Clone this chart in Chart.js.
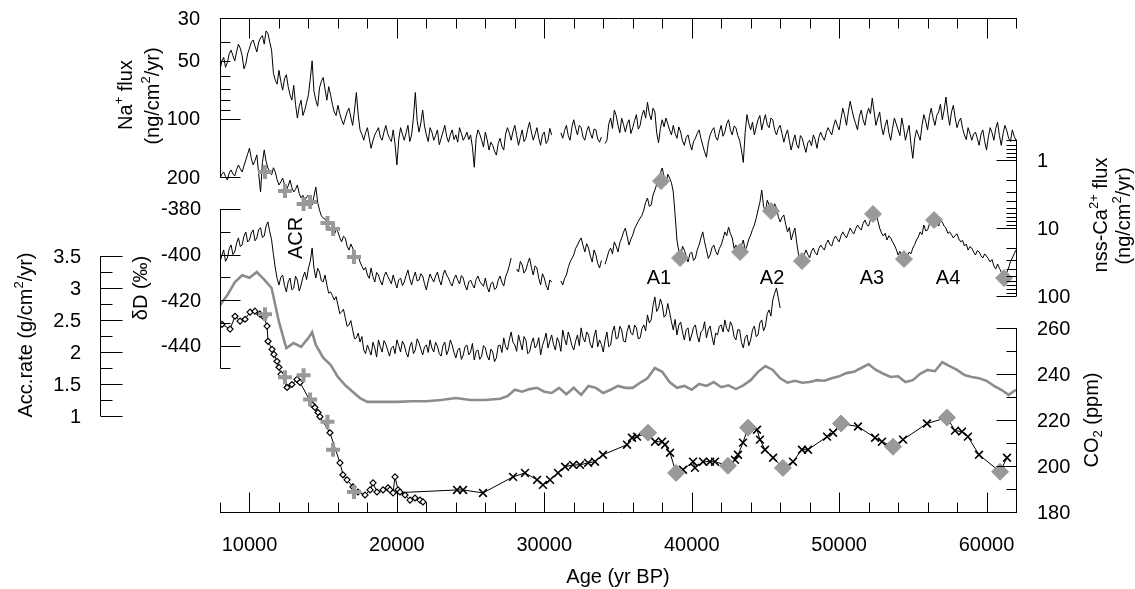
<!DOCTYPE html>
<html lang="en">
<head>
<meta charset="UTF-8">
<title>Ice core records, 8-62 kyr BP</title>
<script src="https://cdn.jsdelivr.net/npm/chart.js"></script>
<style>
  html, body { margin: 0; padding: 0; background: #fff; }
  #wrap { width: 1135px; height: 589px; }
</style>
</head>
<body>
<div id="wrap"><canvas id="coreChart" width="1135" height="589"></canvas></div>
<script>
// high resolution records: one value every 125 yr starting at 8000 yr BP
const fineStart = 8000;
const fineStep = 125;

// Na+ flux (ng/cm2/yr), rows of 2000 yr
const naFlux = [
  56, 50, 48, 54, 51, 46, 44, 47, 50, 45, 41, 43, 47, 55, 52, 46,
  43, 40, 39, 42, 45, 40, 38, 37, 41, 35, 36, 40, 44, 58, 63, 66,
  56, 64, 71, 62, 59, 68, 75, 80, 67, 84, 99, 86, 80, 96, 90, 82,
  75, 62, 50, 72, 80, 86, 69, 64, 61, 70, 80, 68, 75, 84, 92, 96,
  85, 94, 101, 107, 99, 92, 88, 98, 108, 90, 73, 95, 114, 120, 129, 118,
  111, 126, 142, 130, 121, 116, 111, 124, 129, 117, 108, 119, 126, 131, 114, 135,
  173, 128, 111, 120, 129, 118, 108, 131, 121, 98, 73, 102, 117, 105, 90, 109,
  121, 131, 111, 117, 129, 122, 114, 136, 126, 117, 108, 123, 132, 121, 114, 128,
  121, 132, 111, 119, 129, 124, 117, 128, 121, 140, 178, 126, 114, 120, 129, 140,
  117, 128, 145, 132, 137, 147, 154, 134, 126, 139, 145, 120, 111, 118, 129, 116,
  108, 122, 137, 125, 114, 131, 126, 113, 104, 117, 129, 120, 111, 126, 137, 121,
  117, 134, 129, 112, 121, null, null, null, null, 118, 126, 115, 108, 122, 129, 110,
  101, 112, 121, 108, 111, 124, 129, 116, 109, 119, 126, 113, 114, 127, 132, 124,
  null, 134, 129, 106, 99, 112, 90, 96, 108, 118, 99, 107, 117, 106, 101, 119,
  111, 102, 95, 113, 108, 96, 90, 99, 82, 94, 101, 88, 92, 118, 133, 112,
  101, 110, 99, 106, 114, 121, 108, 119, 126, 110, 117, 130, 137, 125, 121, 134,
  145, 131, 126, 119, 114, 126, 137, 148, 158, 133, 121, 115, 111, 124, 129, 117,
  108, 123, 117, 106, 101, 114, 121, 109, 111, 122, 129, 145, 168, 118, 95, 106,
  114, 104, 121, 110, 101, 96, 114, 103, 95, 107, 111, 99, 101, 114, 121, 112,
  108, 119, 132, 121, 114, 130, 145, 131, 121, 136, 142, 122, 126, 138, 149, 133,
  129, 138, 121, 128, 142, 125, 117, 124, 129, 118, 111, 116, 121, 109, 101, 108,
  114, 100, 88, 96, 108, 92, 81, 90, 99, 106, 114, 97, 90, 101, 108, 95,
  88, 94, 78, 92, 108, 99, 92, 110, 121, 108, 101, 118, 129, 112, 99, 106,
  114, 122, 99, 111, 129, 117, 108, 136, 160, 127, 114, 121, 129, 108, 95, 103,
  114, 97, 88, 99, 108, 96, 92, 84, 101, 90, 77, 94, 108, 92, 85, 99,
  111, 103, 99, 112, 121, 128, 111, 119, 129, 120, 117, 126, 137, 120, 114, 131,
  145, 124, 111, 118, 129, 112, 104, 122, 137, 119, 108, 115, 126, 131, 114, 123,
  129
];

// nss-Ca2+ flux (ng/cm2/yr)
const caFlux = [
  1.84, 1.62, 1.50, 1.75, 1.97, 1.55, 1.40, 1.60, 1.72, 1.38, 1.18, 1.35, 1.50, 1.22, 1.00, 0.82,
  0.67, 0.95, 1.18, 1.02, 0.84, 1.60, 2.95, 1.10, 0.71, 1.05, 1.31, 1.48, 1.66, 1.30, 1.50, 1.95,
  2.33, 2.10, 1.84, 2.30, 2.76, 2.40, 1.97, 2.55, 2.95, 2.70, 2.33, 3.10, 3.62, 3.30, 3.88, 3.50,
  3.27, 4.10, 4.59, 3.40, 2.49, 4.20, 5.44, 6.60, 7.13, 7.40, 8.16, 9.50, 10.0, 11.8, 12.7, 10.6,
  11.4, 13.8, 16.0, 13.2, 14.0, 18.5, 21.1, 17.2, 19.7, 24.0, 27.6, 25.0, 31.6, 36.5, 41.5, 38.0,
  49.1, 55.0, 38.7, 52.0, 62.3, 45.0, 49.1, 60.0, 68.9, 52.0, 44.4, 51.0, 58.2, 66.0, 49.1, 62.0,
  76.2, 58.0, 54.4, 70.0, 62.3, 50.0, 41.5, 56.0, 68.9, 53.0, 44.4, 60.0, 58.2, 47.0, 50.8, 66.0,
  81.6, 60.0, 47.5, 55.0, 62.3, 51.0, 44.4, 58.0, 68.9, 50.0, 41.5, 49.0, 54.4, 64.0, 71.3, 56.0,
  49.1, 58.0, 66.6, 50.0, 54.4, 70.0, 81.6, 62.0, 58.2, 68.0, 76.2, 57.0, 50.8, 61.0, 66.6, 72.0,
  54.4, 74.0, 87.3, 66.0, 62.3, 80.0, 76.2, 58.0, 50.8, 63.0, 71.3, 52.0, 44.4, 36.0, 27.6, null,
  null, 40.0, 44.4, 31.0, 35.0, 46.0, 41.5, 33.0, 27.6, 38.0, 49.1, 36.0, 38.7, 55.0, 68.9, 47.0,
  54.4, 70.0, 81.6, 58.0, 62.3, null, null, null, null, 60.0, 68.9, 55.0, 49.1, 38.0, 31.6, 28.0,
  24.9, 20.0, 17.8, 15.5, 14.0, 18.0, 22.5, 17.0, 19.7, 26.0, 31.6, 21.0, 24.9, 33.0, 38.7, 30.0,
  null, 34.0, 27.6, 22.0, 19.7, 24.0, 16.0, 18.5, 22.5, 16.5, 14.0, 11.5, 10.0, 13.5, 17.8, 14.5,
  12.7, 10.2, 9.03, 8.0, 7.13, 6.5, 5.44, 4.2, 3.62, 4.8, 4.59, 3.3, 2.76, 2.3, 1.97, 1.55,
  1.31, 1.75, 2.33, 1.62, 1.84, 2.15, 2.95, 6.5, 15.0, 22.0, 27.6, 18.5, 21.1, 26.0, 31.6, 24.0,
  22.5, 30.0, 27.6, 21.0, 17.8, 14.0, 11.4, 16.0, 21.1, 28.0, 24.9, 19.5, 17.8, 22.0, 24.9, 20.0,
  17.8, 14.5, 11.4, 13.0, 9.7, 12.0, 14.0, 20.0, 17.8, 24.0, 22.5, 18.0, 15.0, 21.0, 18.4, 14.5,
  12.7, 10.5, 9.03, 7.2, 5.44, 4.2, 2.76, 4.8, 5.81, 3.9, 4.59, 5.4, 6.44, 4.4, 5.08, 6.8,
  8.16, 7.0, 6.44, 8.8, 11.4, 9.8, 15.0, 12.0, 10.0, 16.5, 24.9, 28.0, 31.6, 25.0, 21.1, 24.5,
  27.6, 22.0, 19.7, 23.0, 24.9, 20.0, 17.8, 19.5, 21.1, 17.0, 15.0, 17.5, 18.4, 14.8, 13.1, 14.6,
  16.0, 13.0, 11.4, 12.8, 14.0, 11.8, 10.0, 11.2, 12.2, 10.2, 9.03, 10.0, 10.7, 8.6, 7.63, 8.9,
  9.36, 7.6, 6.22, 7.2, 5.44, 7.8, 10.0, 11.8, 13.1, 12.0, 15.0, 13.0, 14.0, 16.0, 17.8, 20.5,
  24.9, 22.0, 27.6, 25.0, 31.6, 26.0, 22.5, 24.0, 19.7, 17.5, 15.0, 13.5, 11.4, 12.5, 9.03, 11.0,
  10.7, 8.8, 7.63, 9.0, 7.13, 8.2, 9.36, 7.9, 8.16, 9.4, 10.0, 12.0, 11.4, 12.6, 14.0, 12.8,
  12.2, 14.5, 16.0, 15.2, 18.4, 17.2, 21.1, 18.8, 19.7, 22.5, 24.9, 21.5, 22.5, 25.5, 27.6, 24.0,
  25.8, 28.5, 31.6, 29.0, 36.2, 40.0, 33.8, 39.0, 44.4, 48.0, 50.8, 45.0, 38.7, 31.0, 27.6, 24.0,
  21.1
];

// deltaD (permil), 8000 - 46000 yr BP
const deltaD = [
  -403.3, -400.5, -398, -403.0, -401.5, -397.5, -395.8, -400.0, -398.9, -395.0, -392.7, -396.5, -395.8, -392.0, -390.1, -394.5,
  -393.6, -390.5, -389.2, -394.0, -392.7, -389.0, -388.3, -392.5, -391.9, -387.5, -385.7, -390.0, -393.6, -400.0, -405.9, -410.5,
  -413.4, -410.0, -409, -413.5, -416.4, -412.0, -410.3, -415.5, -414.7, -409.5, -411.2, -416.0, -413.4, -410.0, -407.7, -411.0,
  -405.9, -403.0, -397.1, -406.0, -410.3, -406.0, -407.7, -411.5, -412, -409.0, -413.4, -417.0, -416.4, -418.0, -420, -418.5,
  -422.1, -426.0, -425.2, -424.0, -427.8, -431.5, -430.9, -429.0, -433.1, -437.0, -436.6, -434.5, -438.4, -436.0, -441.9, -443.5,
  -439.7, -442.0, -444.1, -438.5, -441, -445.0, -437.5, -440.5, -442.8, -437.8, -439.3, -442.0, -444.6, -441.0, -440.2, -443.5,
  -437.5, -440.0, -442.8, -438.0, -439.7, -443.0, -445, -440.5, -438.4, -443.5, -441.9, -437.0, -438.8, -441.5, -444.1, -440.5,
  -439.7, -443.0, -437.5, -441.0, -442.8, -438.5, -440.2, -443.5, -444.6, -440.0, -438.4, -444.0, -441.9, -437.5, -439.7, -443.0,
  -445.4, -442.0, -441, -446.0, -444.1, -440.5, -439.7, -444.0, -442.8, -439.0, -446.3, -442.5, -441.9, -446.0, -444.6, -440.0,
  -441, -444.5, -446.3, -441.5, -442.8, -447.0, -445.4, -440.0, -439.7, -443.0, -436.6, -440.5, -441.9, -437.5, -434, -438.5,
  -439.7, -442.5, -435.3, -438.5, -441.9, -436.0, -437.5, -443.5, -442.8, -439.0, -436.6, -441.0, -439.7, -436.5, -444.1, -440.0,
  -437.5, -434.5, -441, -438.0, -435.3, -439.5, -441.9, -436.5, -438.4, -442.5, -433.1, -437.0, -439.7, -434.0, -436.6, -440.0,
  -441.9, -438.0, -435.3, -440.0, -432.2, -436.5, -438.4, -434.0, -435.3, -439.5, -441, -436.0, -433.1, -440.5, -437.5, -439.5,
  -442.8, -437.5, -434, -440.5, -439.7, -434.0, -431.4, -437.0, -436.6, -431.5, -433.1, -438.0, -438.4, -433.5, -430.9, -434.5,
  -435.3, -431.0, -432.2, -437.0, -436.6, -432.5, -430.9, -433.5, -426.5, -430.0, -428.7, -422.5, -418.6, -425.0, -423.5, -419.5,
  -422.1, -427.5, -426.5, -421.5, -425.2, -429.5, -433.1, -428.5, -435.3, -431.0, -429.6, -434.0, -437.5, -433.0, -432.2, -438.0,
  -435.3, -432.0, -430.9, -435.5, -438.4, -434.0, -433.1, -429.5, -436.6, -433.0, -431.4, -436.0, -439.7, -434.5, -435.3, -431.5,
  -430.9, -434.0, -428.7, -432.5, -434, -429.5, -431.4, -436.0, -437.5, -433.0, -433.1, -438.5, -441, -436.5, -435.3, -440.0,
  -437.5, -433.0, -431.4, -436.0, -435.3, -430.0, -428.7, -433.5, -431.4, -426.0, -424.3, -427.0, -420, -417.0, -414.7, -419.0,
  -423.5
];

// accumulation rate (g/cm2/yr)
const accAge = [8000, 8500, 9000, 9500, 10000, 10500, 11000, 11500, 12000, 12500,
  13000, 13500, 14000, 14250, 14500, 15000, 15500, 16000, 16500, 17000,
  17500, 18000, 19000, 20000, 21000, 22000, 23000, 24000, 25000, 26000,
  27000, 27500, 28000, 28500, 29000, 29500, 30000, 30500, 31000, 31500,
  32000, 32500, 33000, 33500, 34000, 34500, 35000, 35500, 36000, 36500,
  37000, 37500, 38000, 38500, 39000, 39500, 40000, 40500, 41000, 41500,
  42000, 42500, 43000, 43500, 44000, 44500, 45000, 45500, 46000, 46500,
  47000, 47500, 48000, 48500, 49000, 49500, 50000, 50500, 51000, 51500,
  52000, 52500, 53000, 53500, 54000, 54500, 55000, 55500, 56000, 56500,
  57000, 57500, 58000, 58500, 59000, 59500, 60000, 60500, 61000, 61500, 62000];
const accRate = [2.73, 2.89, 3.09, 3.20, 3.16, 3.25, 3.13, 3.00, 2.47, 2.06,
  2.14, 2.08, 2.22, 2.31, 2.11, 1.91, 1.80, 1.61, 1.48, 1.38,
  1.28, 1.22, 1.22, 1.22, 1.23, 1.23, 1.25, 1.28, 1.25, 1.25,
  1.27, 1.31, 1.41, 1.38, 1.42, 1.44, 1.38, 1.36, 1.44, 1.34,
  1.44, 1.33, 1.47, 1.44, 1.36, 1.41, 1.47, 1.44, 1.44, 1.52,
  1.59, 1.75, 1.69, 1.53, 1.44, 1.47, 1.41, 1.50, 1.47, 1.53,
  1.45, 1.48, 1.42, 1.48, 1.56, 1.69, 1.78, 1.72, 1.59, 1.52,
  1.55, 1.52, 1.53, 1.56, 1.55, 1.59, 1.62, 1.67, 1.69, 1.75,
  1.81, 1.72, 1.66, 1.61, 1.62, 1.53, 1.56, 1.66, 1.72, 1.70,
  1.84, 1.78, 1.72, 1.64, 1.61, 1.59, 1.55, 1.47, 1.41, 1.33, 1.41];

// CO2 (ppm), early record (open diamonds)
const co2DiamondAge = [8140, 8680, 9020, 9360, 9700, 10040, 10370, 10710, 10990, 11190,
  11260, 11530, 11660, 11870, 12000, 12140, 12550, 12880, 13220, 13430,
  14240, 14440, 14650, 14780, 15460, 16140, 16340, 16620, 17020, 17360,
  17840, 18180, 18380, 18650, 19060, 19400, 19530, 19740, 19870, 20080,
  20210, 20550, 20890, 21230, 21570, 21770];
const co2DiamondVal = [261.7, 259.6, 265.2, 263.1, 263.9, 267.0, 267.4, 266.1, 264.8, 260.9,
  254.3, 250.8, 248.6, 245.6, 243.0, 239.9, 234.2, 235.5, 237.7, 236.4,
  226.8, 225.5, 223.3, 221.5, 214.5, 201.4, 196.2, 194.0, 190.9, 188.7,
  187.4, 189.6, 192.7, 188.7, 189.6, 190.5, 189.6, 188.3, 195.3, 189.6,
  188.7, 187.4, 185.2, 186.1, 185.2, 184.4];

// CO2 (ppm), glacial record (x markers)
const co2CrossAge = [24080, 24490, 25840, 27880, 28690, 29510, 29910, 30390, 30930, 31410,
  31950, 32420, 32970, 33440, 33980, 35610, 35950, 36290, 37040, 37510,
  37990, 38190, 38530, 38940, 39410, 40090, 40220, 40770, 41240, 41580,
  42460, 42940, 43140, 43480, 43820, 44430, 44630, 44970, 45520, 46190,
  46870, 47480, 47890, 49180, 49590, 50130, 51280, 52440, 52910, 53660,
  54340, 55960, 57320, 57860, 58340, 58740, 59490, 60920, 61390];
const co2CrossVal = [189.6, 189.6, 188.3, 195.3, 197.0, 194.0, 191.8, 194.0, 197.0, 199.7,
  200.5, 200.5, 201.4, 201.9, 204.9, 209.3, 212.3, 212.8, 214.5, 210.6,
  210.6, 209.3, 205.8, 197.0, 198.4, 201.9, 199.2, 201.9, 201.9, 201.9,
  200.1, 202.7, 204.9, 210.2, 216.7, 215.8, 211.5, 207.1, 203.6, 199.2,
  201.9, 207.1, 207.1, 212.8, 214.5, 218.5, 217.2, 212.3, 210.6, 208.4,
  211.5, 218.5, 221.1, 215.4, 215.0, 212.8, 204.9, 197.5, 203.6];

// synchronisation points of the deglaciation (grey crosses)
const syncAge = [11050, 12410, 13670, 14110, 15290, 15670, 17090];
const syncCa = [1.50, 2.86, 4.44, 4.15, 8.44, 10.3, 26.7];
const syncCO2 = [266.1, 238.6, 239.5, 229.0, 219.3, 207.1, 188.7];

// turning points of the A events (grey diamonds)
const caEventAge = [37920, 39210, 43280, 45380, 47480, 52300, 54400, 56440, 61190];
const caEventVal = [2.04, 27.6, 22.5, 5.62, 30.6, 6.22, 28.6, 7.63, 54.4];
const co2EventAge = [37040, 38940, 42460, 43820, 46190, 50130, 53660, 57320, 60920];
const co2EventVal = [214.5, 197.0, 200.1, 216.7, 199.2, 218.5, 208.4, 221.1, 197.5];

// Antarctic warm events
const eventNames = ['A1', 'A2', 'A3', 'A4'];
const eventAge = [37780, 45450, 52230, 57390];

// axis ticks
const ageTicks = [8000, 10000, 12000, 14000, 16000, 18000, 20000, 22000, 24000, 26000, 28000,
  30000, 32000, 34000, 36000, 38000, 40000, 42000, 44000, 46000, 48000, 50000, 52000,
  54000, 56000, 58000, 60000, 62000];
const ageLabels = [10000, 20000, 30000, 40000, 50000, 60000];
const naTicks = [30, 40, 50, 60, 70, 80, 90, 100, 200];
const naMajor = [100, 200];
const naLabels = [30, 50, 100, 200];
const caTicks = [0.5, 0.6, 0.7, 0.8, 0.9, 1, 2, 3, 4, 5, 6, 7, 8, 9, 10,
  20, 30, 40, 50, 60, 70, 80, 90, 100];
const caMajor = [1, 10, 100];
const caLabels = [1, 10, 100];
const dDTicks = [-380, -390, -400, -410, -420, -430, -440, -450];
const dDMajor = [-380, -400, -420, -440];
const dDLabels = [-380, -400, -420, -440];
const accTicks = [1, 1.25, 1.5, 1.75, 2, 2.25, 2.5, 2.75, 3, 3.25, 3.5];
const accMajor = [1, 1.5, 2, 2.5, 3, 3.5];
const accLabels = [1, 1.5, 2, 2.5, 3, 3.5];
const co2Ticks = [180, 190, 200, 210, 220, 230, 240, 250, 260];
const co2Major = [180, 200, 220, 240, 260];
const co2Labels = [180, 200, 220, 240, 260];

const GREY = '#999999';
const FONT = '"Liberation Sans", Arial, Helvetica, sans-serif';
const BASE_FONT = '20px ' + FONT;
const SMALL_FONT = '13px ' + FONT;

const fine = vals => vals.map((v, i) => ({ x: fineStart + i * fineStep, y: v }));
const pairs = (xs, ys) => xs.map((x, i) => ({ x: x, y: ys[i] }));

function crisp(v) { return Math.round(v) + 0.5; }

function drawRich(ctx, parts, cx, cy, angle) {
  ctx.save();
  ctx.translate(cx, cy);
  ctx.rotate(angle);
  const widths = parts.map(p => {
    ctx.font = (p.sup || p.sub) ? SMALL_FONT : BASE_FONT;
    return ctx.measureText(p.t).width;
  });
  let x = -widths.reduce((a, b) => a + b, 0) / 2;
  ctx.textAlign = 'left';
  ctx.textBaseline = 'middle';
  parts.forEach((p, i) => {
    ctx.font = (p.sup || p.sub) ? SMALL_FONT : BASE_FONT;
    ctx.fillText(p.t, x, p.sup ? -7 : (p.sub ? 6 : 0));
    x += widths[i];
  });
  ctx.restore();
}

// vertical value axis: dir = +1 ticks point right, -1 ticks point left
function valueAxis(ctx, scale, x, ticks, majors, labels, dir, majorLen, minorLen, labelX) {
  const ys = ticks.map(t => scale.getPixelForValue(t));
  const xx = crisp(x);
  ctx.beginPath();
  ctx.moveTo(xx, Math.min(...ys));
  ctx.lineTo(xx, Math.max(...ys));
  ctx.stroke();
  ticks.forEach((t, i) => {
    const len = majors.includes(t) ? majorLen : minorLen;
    const y = crisp(ys[i]);
    ctx.beginPath();
    ctx.moveTo(xx, y);
    ctx.lineTo(xx + dir * len, y);
    ctx.stroke();
  });
  ctx.font = BASE_FONT;
  ctx.textBaseline = 'middle';
  ctx.textAlign = dir > 0 ? 'right' : 'left';
  labels.forEach(t => ctx.fillText(String(t), labelX, scale.getPixelForValue(t) + 1));
}

const axesPlugin = {
  id: 'coreAxes',
  afterDraw(chart) {
    const { ctx, chartArea: a, scales: s } = chart;
    ctx.save();
    ctx.strokeStyle = '#000';
    ctx.fillStyle = '#000';
    ctx.lineWidth = 1;

    // age axes on top and bottom
    const top = crisp(a.top), bottom = crisp(a.bottom);
    ctx.beginPath();
    ctx.moveTo(a.left, top); ctx.lineTo(a.right + 1, top);
    ctx.moveTo(a.left, bottom); ctx.lineTo(a.right + 1, bottom);
    ctx.stroke();
    ageTicks.forEach(t => {
      const x = crisp(s.x.getPixelForValue(t));
      const len = ageLabels.includes(t) ? 20 : 10;
      ctx.beginPath();
      ctx.moveTo(x, top); ctx.lineTo(x, top + len);
      ctx.moveTo(x, bottom); ctx.lineTo(x, bottom - len);
      ctx.stroke();
    });
    ctx.font = BASE_FONT;
    ctx.textAlign = 'center';
    ctx.textBaseline = 'middle';
    ageLabels.forEach(t => ctx.fillText(String(t), s.x.getPixelForValue(t), a.bottom + 33));
    ctx.fillText('Age (yr BP)', 618, 577);

    // left axes
    valueAxis(ctx, s.yNa, a.left, naTicks, naMajor, naLabels, 1, 20, 10, 200);
    valueAxis(ctx, s.yDD, a.left, dDTicks, dDMajor, dDLabels, 1, 20, 10, 201);
    valueAxis(ctx, s.yAcc, 100, accTicks, accMajor, accLabels, 1, 22, 12, 81);
    // right axes
    valueAxis(ctx, s.yCa, a.right, caTicks, caMajor, caLabels, -1, 20, 10, 1037);
    valueAxis(ctx, s.yCO2, a.right, co2Ticks, co2Major, co2Labels, -1, 20, 10, 1037);

    // axis titles
    const up = -Math.PI / 2;
    drawRich(ctx, [{ t: 'Na' }, { t: '+', sup: 1 }, { t: ' flux' }], 126, 95, up);
    drawRich(ctx, [{ t: '(ng/cm' }, { t: '2', sup: 1 }, { t: '/yr)' }], 153, 96, up);
    drawRich(ctx, [{ t: 'δD (‰)' }], 141, 288, up);
    drawRich(ctx, [{ t: 'Acc.rate (g/cm' }, { t: '2', sup: 1 }, { t: '/yr)' }], 26, 335, up);
    drawRich(ctx, [{ t: 'nss-Ca' }, { t: '2+', sup: 1 }, { t: ' flux' }], 1101, 215, up);
    drawRich(ctx, [{ t: '(ng/cm' }, { t: '2', sup: 1 }, { t: '/yr)' }], 1124, 216, up);
    drawRich(ctx, [{ t: 'CO' }, { t: '2', sub: 1 }, { t: ' (ppm)' }], 1092, 420, up);

    // event labels
    ctx.font = BASE_FONT;
    ctx.textAlign = 'center';
    ctx.textBaseline = 'middle';
    eventNames.forEach((n, i) => ctx.fillText(n, s.x.getPixelForValue(eventAge[i]), s.yCa.getPixelForValue(56)));
    drawRich(ctx, [{ t: 'ACR' }], s.x.getPixelForValue(13220), s.yDD.getPixelForValue(-392.7), up);
    ctx.restore();
  }
};

const lineSet = (data, axis, color, width) => ({
  data: data, yAxisID: axis, showLine: true, borderColor: color, borderWidth: width,
  pointRadius: 0, tension: 0, spanGaps: false
});

new Chart(document.getElementById('coreChart'), {
  type: 'scatter',
  data: {
    datasets: [
      { data: pairs(caEventAge, caEventVal), yAxisID: 'yCa', pointStyle: 'rectRot', pointRadius: 8.5,
        backgroundColor: GREY, borderColor: GREY, borderWidth: 1 },
      { data: pairs(co2EventAge, co2EventVal), yAxisID: 'yCO2', pointStyle: 'rectRot', pointRadius: 8.5,
        backgroundColor: GREY, borderColor: GREY, borderWidth: 1 },
      { data: pairs(syncAge, syncCa), yAxisID: 'yCa', pointStyle: 'cross', pointRadius: 7,
        borderColor: GREY, borderWidth: 4 },
      { data: pairs(syncAge, syncCO2), yAxisID: 'yCO2', pointStyle: 'cross', pointRadius: 7,
        borderColor: GREY, borderWidth: 4 },
      { data: pairs(co2CrossAge, co2CrossVal), yAxisID: 'yCO2', showLine: true, borderColor: '#000',
        borderWidth: 1, pointStyle: 'crossRot', pointRadius: 5.5, pointBorderWidth: 1.6, tension: 0 },
      { data: pairs(co2DiamondAge, co2DiamondVal), yAxisID: 'yCO2', showLine: true, borderColor: '#000',
        borderWidth: 1, pointStyle: 'rectRot', pointRadius: 3, pointBorderWidth: 1.2,
        pointBackgroundColor: '#fff', tension: 0 },
      // link between the two CO2 records
      lineSet([{ x: co2DiamondAge[37], y: co2DiamondVal[37] }, { x: co2CrossAge[0], y: co2CrossVal[0] }], 'yCO2', '#000', 1),
      lineSet(fine(naFlux), 'yNa', '#000', 1),
      lineSet(fine(caFlux), 'yCa', '#000', 1),
      lineSet(fine(deltaD), 'yDD', '#000', 1),
      lineSet(pairs(accAge, accRate), 'yAcc', '#8c8c8c', 2.6)
    ]
  },
  options: {
    responsive: false,
    animation: false,
    devicePixelRatio: 1,
    layout: { padding: { left: 220, right: 119, top: 18, bottom: 77 } },
    plugins: { legend: { display: false }, tooltip: { enabled: false } },
    scales: {
      x: { type: 'linear', min: 8000, max: 62000, display: false, bounds: 'data' },
      yNa: { axis: 'y', type: 'logarithmic', min: 30, max: 10880, reverse: true, display: false, bounds: 'data' },
      yCa: { axis: 'y', type: 'logarithmic', min: 0.00816, max: 150000, reverse: true, display: false, bounds: 'data' },
      yDD: { axis: 'y', type: 'linear', min: -513, max: -296.2, display: false, bounds: 'data' },
      yAcc: { axis: 'y', type: 'linear', min: -0.5, max: 7.219, display: false, bounds: 'data' },
      yCO2: { axis: 'y', type: 'linear', min: 180, max: 395, display: false, bounds: 'data' }
    }
  },
  plugins: [axesPlugin]
});
</script>
</body>
</html>
